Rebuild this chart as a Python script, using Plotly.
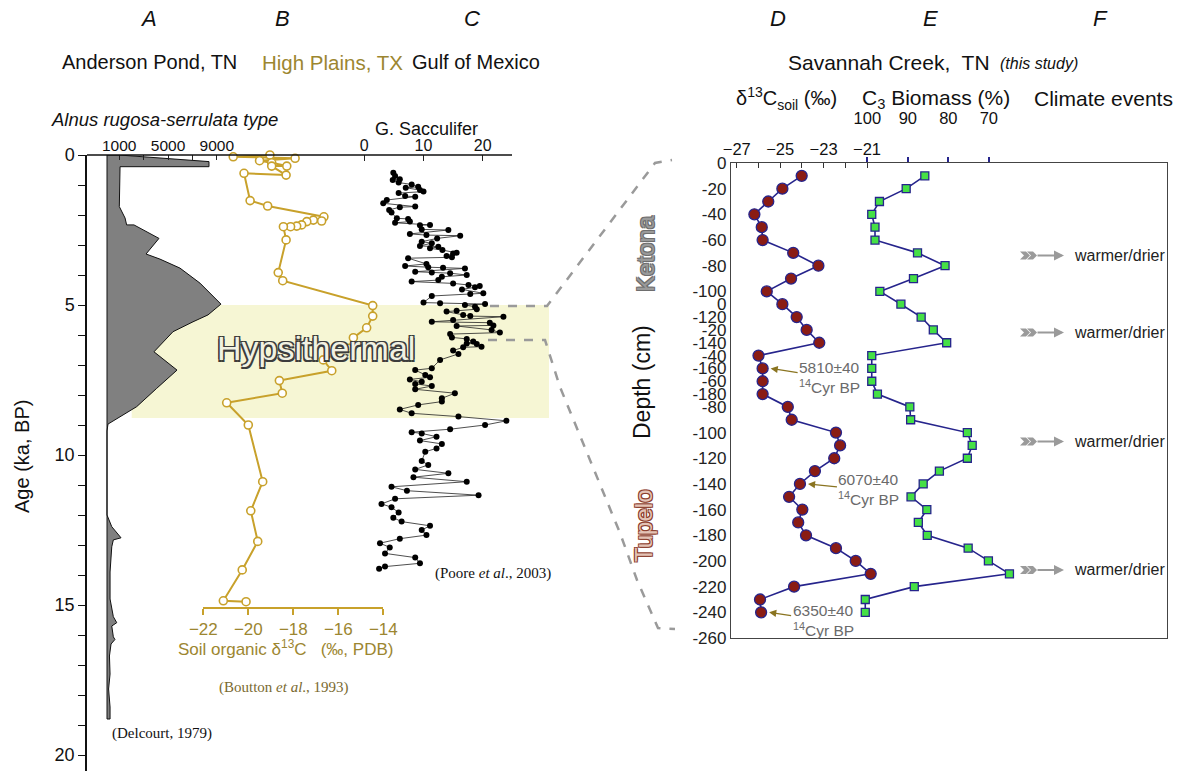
import plotly.graph_objects as go

# ---------------------------------------------------------------- data
# Anderson Pond, TN - Alnus rugosa-serrulata type pollen (Delcourt, 1979)
alnus_age = [0.0, 0.0, 0.22, 0.39, 0.39, 1.72, 2.10, 2.33, 2.33, 2.78, 3.30, 3.47,
             3.77, 4.27, 4.97, 5.33, 5.56, 5.89, 6.56, 7.17, 7.78, 8.39, 8.97, 9.20,
             12.00, 12.39, 12.76, 12.83, 13.06, 13.90, 14.80, 15.39, 15.59, 15.70,
             16.06, 16.15, 16.30, 16.70, 17.30, 17.80, 18.40, 18.80, 18.80]
alnus_count = [0, 1000, 8360, 8360, 1070, 1010, 1480, 1610, 2210, 4260, 3200, 4340,
               5980, 7620, 9340, 8280, 7050, 5410, 3850, 5740, 4070, 2430, 80, 0,
               0, 390, 1150, 520, 390, 250, 250, 520, 800, 390,
               520, 650, 330, 200, 250, 130, 250, 250, 0]

# High Plains, TX - soil organic d13C (Boutton et al., 1993)
boutton_age = [0.00, 0.06, 0.11, 0.19, 0.26, 0.37, 0.37, 0.67, 0.61, 1.52, 1.70,
               2.06, 2.20, 2.17, 2.22, 2.33, 2.37, 2.39, 2.39, 2.83, 3.92, 4.19,
               5.02, 5.37, 5.76, 6.09, 6.44, 6.83, 7.19, 7.52, 7.94, 8.26, 9.00,
               10.89, 11.86, 12.88, 13.83, 14.86, 14.89]
boutton_d13c = [-19.04, -20.67, -17.92, -19.50, -18.96, -18.29, -18.96, -18.32, -20.19,
                -19.92, -19.14, -16.64, -16.74, -17.11, -17.40, -17.63, -17.85, -18.12,
                -18.44, -18.32, -18.67, -18.47, -14.47, -14.47, -14.74, -15.33, -15.56,
                -16.67, -16.29, -18.62, -18.49, -20.96, -20.00, -19.36, -19.89, -19.58,
                -20.27, -21.11, -20.10]

# Gulf of Mexico - G. sacculifer (Poore et al., 2003)
sacc_age = [0.59, 0.70, 0.81, 0.83, 0.92, 0.98, 1.06, 1.09, 1.17, 1.22, 1.27, 1.37,
            1.39, 1.50, 1.61, 1.72, 1.74, 1.83, 1.92, 2.11, 2.13, 2.22, 2.26, 2.33,
            2.34, 2.48, 2.50, 2.63, 2.67, 2.69, 2.78, 2.89, 2.94, 3.03, 3.06, 3.11,
            3.17, 3.26, 3.28, 3.37, 3.41, 3.44, 3.63, 3.70, 3.74, 3.76, 3.78, 3.89,
            3.92, 3.94, 4.00, 4.06, 4.17, 4.22, 4.28, 4.33, 4.37, 4.41, 4.48, 4.61,
            4.63, 4.70, 4.92, 4.94, 4.97, 5.00, 5.06, 5.14, 5.19, 5.22, 5.33, 5.37,
            5.39, 5.50, 5.56, 5.59, 5.68, 5.70, 5.83, 5.92, 5.97, 6.08, 6.13, 6.22,
            6.28, 6.30, 6.39, 6.41, 6.52, 6.63, 6.83, 7.11, 7.17, 7.33, 7.41, 7.48,
            7.56, 7.63, 7.70, 7.81, 7.94, 8.11, 8.22, 8.33, 8.48, 8.61, 8.72, 8.86,
            9.00, 9.14, 9.24, 9.28, 9.39, 9.52, 9.63, 9.78, 9.89, 10.20, 10.33, 10.48,
            10.61, 10.74, 10.89, 11.06, 11.19, 11.34, 11.46, 11.63, 11.74, 11.92,
            12.09, 12.22, 12.36, 12.50, 12.67, 12.79, 12.94, 13.08, 13.28, 13.42,
            13.61, 13.72, 13.79]
sacc_value = [4.9, 5.2, 6.0, 4.8, 5.8, 8.0, 9.1, 7.0, 9.4, 10.0, 5.8, 6.9,
              8.6, 3.8, 3.2, 8.6, 6.0, 4.2, 4.6, 5.5, 7.4, 7.7, 5.2, 11.1,
              9.4, 9.7, 14.2, 7.7, 10.5, 16.2, 12.3, 9.7, 11.4, 9.4, 12.5, 11.1,
              13.2, 15.6, 15.0, 13.9, 14.8, 7.4, 10.5, 6.9, 10.8, 13.3, 17.0, 8.6,
              11.4, 14.5, 17.3, 13.1, 12.5, 8.0, 15.0, 17.6, 19.5, 18.7, 16.5, 20.1,
              17.9, 11.4, 10.0, 12.8, 20.4, 17.0, 18.7, 19.0, 15.6, 13.9, 16.7, 17.9,
              23.5, 15.0, 11.4, 21.2, 21.8, 15.6, 21.5, 22.9, 14.5, 14.8, 17.3, 18.4,
              17.3, 19.0, 19.8, 16.7, 15.0, 15.9, 12.8, 11.4, 8.6, 10.3, 11.1, 7.7,
              9.7, 8.6, 11.4, 8.6, 15.3, 13.1, 13.1, 9.1, 6.0, 8.0, 15.9, 24.0,
              20.4, 14.5, 8.0, 9.7, 12.2, 9.4, 13.1, 12.2, 10.3, 9.7, 10.8, 8.6,
              14.2, 8.3, 17.3, 4.6, 7.2, 19.3, 5.2, 2.9, 4.6, 5.8,
              4.9, 6.3, 11.1, 9.7, 10.5, 6.0, 2.65, 4.3, 3.5, 8.6,
              9.4, 3.5, 2.5]

# Savannah Creek, TN (this study) - Ketona and Tupelo cores, depth in cm
ketona_depth = [-10, -20, -30, -40, -50, -60, -70, -80, -90, -100, -110, -120,
                -130, -140, -150, -160, -170, -180]
ketona_d13c = [-24.01, -24.90, -25.55, -26.19, -25.85, -25.81, -24.40, -23.24, -24.50,
               -25.62, -24.90, -24.24, -23.78, -23.20, -26.00, -25.81, -25.81, -25.81]
ketona_c3 = [85.8, 90.4, 97.0, 98.9, 98.1, 98.1, 87.6, 80.8, 88.6, 96.9, 91.7, 86.7,
             83.7, 80.4, 98.9, 98.9, 98.9, 97.5]

tupelo_depth = [-80, -90, -100, -110, -120, -130, -140, -150, -160, -170, -180, -190,
                -200, -210, -220, -230, -240]
tupelo_d13c = [-24.65, -24.47, -22.43, -22.24, -22.51, -23.40, -24.09, -24.59, -23.98,
               -24.17, -23.81, -22.43, -21.52, -20.83, -24.36, -25.93, -25.88]
tupelo_c3 = [89.5, 89.3, 75.3, 74.1, 75.3, 82.2, 86.2, 89.2, 85.3, 87.4, 85.2, 75.1,
             70.1, 64.9, 88.4, 100.5, 100.5]

ketona_ticks = [0, -20, -40, -60, -80, -100, -120, -140, -160, -180]
tupelo_ticks = [0, -20, -40, -60, -80, -100, -120, -140, -160, -180, -200, -220,
                -240, -260]

# radiocarbon dates: (label, core, depth)
dates = [("5810±40", "ketona", -160), ("6070±40", "tupelo", -140),
         ("6350±40", "tupelo", -240)]
event_depth = [-72, -132, -217, -317]      # composite plotting depth of climate events
hypsithermal = (5.0, 8.77)                 # ka BP

# ---------------------------------------------------------------- geometry
W, H = 1194, 771
TUPELO_SHIFT = -110        # Tupelo core is drawn below Ketona on one depth scale


def px(x):
    return x / W


def py(y):
    return 1 - y / H


AGE_TOP, PX_PER_KA = 155, 30.0
AGE_BOTTOM = (H - AGE_TOP) / PX_PER_KA


def age_paper(a):
    return py(AGE_TOP + a * PX_PER_KA)


A_LEFT, A_RIGHT, A_ZERO, A_PX = 87, 260, 107, 12.2 / 1000
C_LEFT, C_RIGHT, C_ZERO, C_PX = 330, 512, 364.3, 5.92
R_LEFT, R_RIGHT, R_TOP, R_BOTTOM = 731, 1167, 163, 638
D_REF_PX, D_PX = 867.0, 21.7       # -21 permil
E_REF_PX, E_PX = 867.3, 4.05       # 100 %

GOLD = "#c8a12b"
GOLD_TEXT = "#9c8630"
NAVY = "#26248c"
FONT = "Liberation Sans"
SERIF = "Liberation Serif"


def tupelo_plot(d):
    return d + TUPELO_SHIFT


comp_depth = ketona_depth + [tupelo_plot(d) for d in tupelo_depth]
comp_d13c = ketona_d13c + tupelo_d13c
comp_c3 = ketona_c3 + tupelo_c3

fig = go.Figure()

# A: pollen silhouette
fig.add_trace(go.Scatter(
    x=alnus_count + [alnus_count[0]], y=alnus_age + [alnus_age[0]],
    xaxis="x", yaxis="y", mode="lines", fill="toself", fillcolor="#808080",
    line=dict(color="#111111", width=1), hoverinfo="skip"))

# B: soil organic d13C
fig.add_trace(go.Scatter(
    x=boutton_d13c, y=boutton_age, xaxis="x2", yaxis="y", mode="lines+markers",
    line=dict(color=GOLD, width=2),
    marker=dict(symbol="circle", size=8, color="white", line=dict(color=GOLD, width=1.6)),
    cliponaxis=False))

# C: G. sacculifer
fig.add_trace(go.Scatter(
    x=sacc_value, y=sacc_age, xaxis="x3", yaxis="y", mode="lines+markers",
    line=dict(color="#222222", width=0.8),
    marker=dict(size=6, color="#000000"), cliponaxis=False))

# D: d13C soil
fig.add_trace(go.Scatter(
    x=comp_d13c, y=comp_depth, xaxis="x4", yaxis="y2", mode="lines+markers",
    line=dict(color=NAVY, width=1.6),
    marker=dict(size=11, color="#8a1c14", line=dict(color=NAVY, width=1.3)),
    cliponaxis=False))

# E: C3 biomass
fig.add_trace(go.Scatter(
    x=comp_c3, y=comp_depth, xaxis="x5", yaxis="y2", mode="lines+markers",
    line=dict(color=NAVY, width=1.6),
    marker=dict(symbol="square", size=8, color="#45e045", line=dict(color=NAVY, width=1.3)),
    cliponaxis=False))

noaxis = dict(showgrid=False, zeroline=False)

d_left = -21 + (R_LEFT - D_REF_PX) / D_PX
d_right = -21 + (R_RIGHT - D_REF_PX) / D_PX
e_left = 100 + (E_REF_PX - R_LEFT) / E_PX
e_right = 100 - (R_RIGHT - E_REF_PX) / E_PX

depth_tickvals = ketona_ticks + [tupelo_plot(t) for t in tupelo_ticks]
depth_ticktext = [str(t) for t in ketona_ticks] + [str(t) for t in tupelo_ticks]

fig.update_layout(
    width=W, height=H, margin=dict(l=0, r=0, t=0, b=0),
    template="none", paper_bgcolor="white", plot_bgcolor="rgba(0,0,0,0)",
    showlegend=False, font=dict(family=FONT, color="#111111"),
    xaxis=dict(domain=[px(A_LEFT), px(A_RIGHT)],
               range=[(A_LEFT - A_ZERO) / A_PX, (A_RIGHT - A_ZERO) / A_PX],
               side="top", anchor="y", tickvals=[1000, 3000, 5000, 7000, 9000],
               ticktext=["1000", "", "5000", "", "9000"], ticks="inside", ticklen=5,
               tickcolor="#222", showline=False, tickfont=dict(size=15.5), **noaxis),
    yaxis=dict(domain=[0, py(AGE_TOP)], range=[AGE_BOTTOM, 0], anchor="x",
               tickvals=list(range(0, 21)),
               ticktext=[str(v) if v % 5 == 0 else "" for v in range(0, 21)],
               ticks="outside", ticklen=7, tickcolor="#111", tickwidth=1.3,
               showline=True, linecolor="#111", linewidth=1.5,
               tickfont=dict(size=18), **noaxis),
    xaxis2=dict(domain=[px(203.3), px(383.3)], range=[-22, -14], anchor="free",
                position=py(608), side="bottom", tickvals=[-22, -20, -18, -16, -14],
                ticks="outside", ticklen=6, tickcolor=GOLD, tickwidth=1.5,
                showline=True, linecolor=GOLD, linewidth=1.8,
                tickfont=dict(size=17, color=GOLD_TEXT), **noaxis),
    xaxis3=dict(domain=[px(C_LEFT), px(C_RIGHT)],
                range=[(C_LEFT - C_ZERO) / C_PX, (C_RIGHT - C_ZERO) / C_PX],
                side="top", anchor="y", tickvals=[0, 10, 20], ticks="inside",
                ticklen=6, tickcolor="#222", showline=False,
                tickfont=dict(size=16), **noaxis),
    xaxis4=dict(domain=[px(R_LEFT), px(R_RIGHT)], range=[d_left, d_right],
                side="top", anchor="y2", tickvals=[-27, -25, -23, -21],
                ticks="inside", ticklen=5, tickcolor="#333",
                minor=dict(tickvals=[-27, -26, -25, -24, -23, -22, -21],
                           ticks="inside", ticklen=5, tickcolor="#333", showgrid=False),
                showline=True, mirror=True, linecolor="#444", linewidth=1.3,
                tickfont=dict(size=16.5), **noaxis),
    xaxis5=dict(overlaying="x4", range=[e_left, e_right], side="top", anchor="y2",
                tickvals=[100, 90, 80, 70], ticks="outside", ticklen=5,
                tickcolor=NAVY, tickwidth=1.5, showline=False, ticklabelstandoff=26,
                tickfont=dict(size=16.5), **noaxis),
    yaxis2=dict(domain=[py(R_BOTTOM), py(R_TOP)], range=[-370, 0], anchor="x4",
                tickvals=depth_tickvals, ticktext=depth_ticktext, ticks="",
                showline=True, mirror=True, linecolor="#444", linewidth=1.3,
                tickfont=dict(size=17, color="#222"), **noaxis),
)

shapes = []
# Hypsithermal band
shapes.append(dict(type="rect", xref="paper", yref="paper", x0=px(131.7), x1=px(549),
                   y0=age_paper(hypsithermal[1]), y1=age_paper(hypsithermal[0]),
                   fillcolor="#f6f6d4", line=dict(width=0), layer="below"))
# top axis line of the left panels
shapes.append(dict(type="line", xref="paper", yref="paper", x0=px(A_LEFT), x1=px(C_RIGHT),
                   y0=py(AGE_TOP), y1=py(AGE_TOP), line=dict(color="#111", width=1.5)))
# dashed connectors from the Gulf record to the Savannah Creek panel
upper = [(490, 306), (547, 306), (655, 163), (672, 160)]
lower = [(488, 340), (545, 340), (560, 387), (620, 533), (637, 580), (658, 628), (675, 629)]
for seg in (upper, lower):
    path = "M " + " L ".join(f"{px(x):.5f},{py(y):.5f}" for x, y in seg)
    shapes.append(dict(type="path", xref="paper", yref="paper", path=path,
                       line=dict(color="#9a9a9a", width=2.5, dash="dash")))
# fletching of the climate-event arrows
fletch = ("M0,4 L7,4 L11,0 L7,-4 L0,-4 L4,0 Z "
          "M6,4 L13,4 L17,0 L13,-4 L6,-4 L10,0 Z")
for d in event_depth:
    shapes.append(dict(type="path", xref="paper", yref="y2", xsizemode="pixel",
                       ysizemode="pixel", xanchor=px(1020), yanchor=d, path=fletch,
                       fillcolor="#9a9a9a", line=dict(width=0)))
fig.update_layout(shapes=shapes)


def note(text, x, y, size, color="#111111", family=FONT, xanchor="center", **kw):
    fig.add_annotation(text=text, x=px(x), y=py(y), xref="paper", yref="paper",
                       showarrow=False, xanchor=xanchor, yanchor="middle",
                       font=dict(size=size, color=color, family=family), **kw)


def outlined(text, x, y, size, fill, edge, width, angle=0):
    s = f"{width}px"
    shadow = ", ".join(f"{a}{s} {b}{s} 0 {edge}" for a in ("-", "") for b in ("-", ""))
    fig.add_annotation(text=text, x=px(x), y=py(y), xref="paper", yref="paper",
                       showarrow=False, xanchor="center", yanchor="middle",
                       textangle=angle,
                       font=dict(size=size, color=fill, family=FONT, shadow=shadow))


# panel letters and site names
for letter, x in (("A", 148), ("B", 282), ("C", 472), ("D", 778), ("E", 930), ("F", 1100)):
    note(f"<i>{letter}</i>", x, 18, 22)
note("Anderson Pond, TN", 60, 62, 20, xanchor="left")
note("High Plains, TX", 260, 62, 20.5, color=GOLD_TEXT, xanchor="left")
note("Gulf of Mexico", 410, 62, 20, xanchor="left")
note("Savannah Creek,  TN", 786, 62, 21, xanchor="left")
note("<i>(this study)</i>", 998, 63, 16, xanchor="left")
note("δ<sup>13</sup>C<sub>soil</sub> (‰)", 734, 99, 20, xanchor="left")
note("C<sub>3</sub> Biomass (%)", 860, 99, 21, xanchor="left")
note("Climate events", 1032, 99, 21, xanchor="left")
note("<i>Alnus rugosa-serrulata type</i>", 49, 119, 18.5, xanchor="left")
note("G. Sacculifer", 373, 129, 18, xanchor="left")
note("Age (ka, BP)", 22, 457, 20, textangle=-90)

# citations and axis title of panel B
note("(Delcourt, 1979)", 162, 733, 15, family=SERIF)
note("(Boutton <i>et al</i>., 1993)", 284, 687, 15, color="#7a6a30", family=SERIF)
note("(Poore <i>et al</i>., 2003)", 493, 573, 15, family=SERIF)
note("Soil organic δ<sup>13</sup>C   (‰, PDB)", 285, 648, 17, color=GOLD_TEXT)

# outlined labels
outlined("Hypsithermal", 316, 348, 34, "#f1f1e2", "#3c3c3c", 1.5)
outlined("Ketona", 646, 254, 24, "#9a9a9a", "#6e6e6e", 1, angle=-90)
note("Depth (cm)", 642, 382, 23, textangle=-90)
outlined("Tupelo", 643, 526, 24, "#e3c3b6", "#8c3f2e", 1, angle=-90)

# radiocarbon dates pointing at their samples
offsets = {"5810±40": (59, 9), "6070±40": (61, 6), "6350±40": (54, 8)}
for label, core, depth in dates:
    if core == "ketona":
        val, yy = ketona_d13c[ketona_depth.index(depth)], depth
    else:
        val, yy = tupelo_d13c[tupelo_depth.index(depth)], tupelo_plot(depth)
    ax, ay = offsets[label]
    fig.add_annotation(text=f"{label}<br><sup>14</sup>Cyr BP", x=val, y=yy,
                       xref="x4", yref="y2", xshift=8, showarrow=True, ax=ax, ay=ay,
                       arrowhead=2, arrowsize=1.1, arrowwidth=1.3, arrowcolor="#8a7420",
                       align="left", font=dict(size=15.5, color="#6b6b6b"))

# climate events
for d in event_depth:
    fig.add_annotation(text="", x=px(1064), y=d, xref="paper", yref="y2",
                       showarrow=True, ax=-28, ay=0, arrowhead=2, arrowsize=1,
                       arrowwidth=2, arrowcolor="#9a9a9a")
    fig.add_annotation(text="warmer/drier", x=px(1072), y=d, xref="paper", yref="y2",
                       showarrow=False, xanchor="left",
                       font=dict(size=16, color="#222222"))

fig.write_html("out.html")
